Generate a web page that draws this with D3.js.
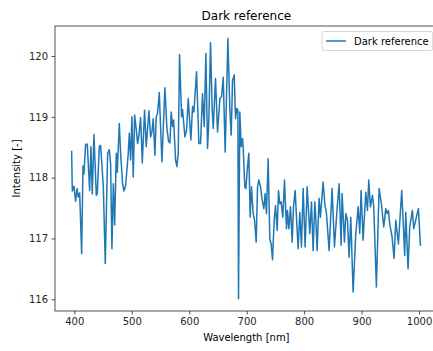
<!DOCTYPE html>
<html>
<head>
<meta charset="utf-8">
<script src="https://cdn.jsdelivr.net/npm/d3@7"></script>
<style>
  html, body { margin: 0; padding: 0; background: #fff; }
  svg { display: block; font-family: "DejaVu Sans", sans-serif; }
</style>
</head>
<body>
<svg id="chart" width="433" height="351"></svg>
<script>
const title = 'Dark reference';
const seriesName = 'Dark reference';
const xLabel = 'Wavelength [nm]';
const yLabel = 'Intensity [-]';
const xTicks = [400, 500, 600, 700, 800, 900, 1000];
const yTicks = [116, 117, 118, 119, 120];

const wavelengths = [
  395.4, 396.5, 399.4, 402.3, 404.7, 407.0, 409.3, 412.8, 415.1, 416.8,
  419.7, 422.6, 426.7, 429.0, 431.3, 434.2, 438.3, 440.0, 443.5, 445.8,
  450.5, 453.9, 458.0, 460.9, 463.2, 465.5, 467.9, 470.2, 473.1, 474.8,
  478.3, 480.6, 484.1, 486.4, 489.3, 493.9, 495.7, 498.0, 500.3, 502.6,
  505.0, 507.3, 510.2, 512.5, 515.4, 518.3, 522.3, 525.2, 529.9, 532.8,
  535.1, 537.4, 540.3, 542.6, 544.9, 547.9, 552.5, 557.7, 561.2, 564.1,
  566.4, 568.7, 571.0, 572.8, 576.3, 578.6, 580.9, 583.2, 586.7, 588.4,
  592.5, 595.4, 598.3, 602.9, 605.8, 608.1, 612.8, 616.8, 619.7, 623.2,
  626.1, 629.0, 631.9, 634.2, 637.1, 640.0, 641.8, 645.8, 649.3, 653.4,
  656.3, 659.2, 662.6, 667.3, 670.8, 673.1, 675.4, 678.3, 680.6, 682.9,
  684.7, 685.8, 688.1, 690.5, 692.8, 693.9, 696.8, 698.6, 701.5, 703.8,
  706.1, 708.4, 711.3, 713.7, 716.6, 718.9, 721.2, 724.1, 727.0, 729.9,
  732.2, 734.5, 737.4, 740.3, 742.6, 745.0, 747.9, 750.2, 753.1, 755.4,
  757.7, 760.0, 762.9, 765.8, 769.3, 771.0, 773.4, 776.3, 779.2, 781.5,
  784.4, 787.3, 789.6, 792.5, 795.4, 798.3, 801.8, 805.3, 808.2, 809.9,
  812.8, 815.7, 818.6, 820.3, 822.6, 826.1, 828.4, 833.1, 836.0, 838.9,
  843.5, 848.7, 852.8, 856.8, 860.9, 864.4, 866.1, 870.2, 872.5, 875.4,
  878.3, 881.2, 885.3, 889.9, 894.0, 896.8, 899.2, 902.6, 907.3, 910.2,
  912.5, 915.4, 918.9, 921.2, 925.8, 930.5, 934.5, 938.6, 942.1, 944.4,
  946.7, 949.0, 953.1, 956.6, 959.5, 964.1, 969.9, 975.1, 976.9, 980.9,
  983.8, 988.4, 990.8, 995.4, 998.9, 1002.4
];

const intensities = [
  118.43, 117.78, 117.86, 117.61, 117.82, 117.68, 117.75, 116.75, 118.19, 118.06,
  118.55, 118.55, 117.79, 118.51, 117.73, 118.71, 117.71, 117.74, 118.51, 118.53,
  117.85, 116.59, 118.40, 118.46, 118.23, 116.83, 117.90, 117.22, 118.40, 118.09,
  118.89, 118.40, 117.90, 117.78, 117.87, 118.40, 118.73, 118.29, 119.00, 118.01,
  119.03, 118.84, 118.56, 118.70, 118.99, 118.24, 119.11, 118.51, 119.10, 118.67,
  118.75, 118.97, 118.37, 119.00, 119.06, 119.40, 118.26, 119.48, 118.81, 118.59,
  118.57, 119.08, 118.84, 118.95, 118.29, 118.18, 118.40, 120.02, 119.00, 119.12,
  118.67, 118.78, 119.30, 118.62, 119.17, 119.08, 119.74, 118.56, 118.56, 119.38,
  118.84, 120.04, 118.48, 118.95, 120.22, 119.11, 118.81, 119.63, 118.75, 119.30,
  119.33, 119.65, 118.42, 120.29, 119.11, 118.70, 119.60, 119.69, 118.97, 119.14,
  119.11, 116.01, 119.08, 118.51, 118.64, 118.51, 117.85, 117.82, 118.18, 118.40,
  117.35, 117.85, 117.41, 117.30, 116.94, 117.85, 117.96, 117.85, 117.63, 117.49,
  117.74, 117.41, 118.31, 116.99, 116.91, 116.65, 117.30, 117.54, 117.13, 117.79,
  117.57, 117.60, 117.35, 117.96, 117.16, 117.46, 117.16, 117.52, 116.94, 117.52,
  117.79, 117.24, 116.83, 117.43, 116.86, 117.82, 116.86, 117.85, 117.35, 117.08,
  117.60, 116.80, 117.60, 117.35, 116.80, 117.66, 117.35, 117.93, 117.57, 117.41,
  116.80, 117.82, 116.86, 117.41, 117.90, 116.89, 117.74, 116.94, 117.41, 117.30,
  116.69, 117.35, 116.12, 117.08, 117.52, 117.08, 117.79, 116.97, 117.76, 117.46,
  117.96, 117.52, 117.71, 117.52, 116.20, 117.82, 117.57, 117.19, 117.49, 117.41,
  117.46, 117.24, 117.02, 116.67, 117.30, 116.91, 117.79, 116.72, 117.43, 116.50,
  117.19, 117.46, 117.16, 117.35, 117.49, 116.89
];

const data = wavelengths.map((w, i) => ({ x: w, y: intensities[i] }));

// axes box; the right spine falls just outside the picture like in the original
const plot = { left: 55, top: 26, right: 437.7, bottom: 311 };
const textColor = '#262626';

const svg = d3.select('#chart');

const x = d3.scaleLinear().domain([366.4, 1032.5]).range([plot.left, plot.right]);
const y = d3.scaleLinear().domain([115.807, 120.494]).range([plot.bottom, plot.top]);

// x axis
const xAxis = svg.append('g')
  .attr('transform', `translate(0,${plot.bottom})`)
  .call(d3.axisBottom(x).tickValues(xTicks).tickSize(3.5).tickPadding(3.5).tickFormat(d3.format('d')));
xAxis.select('.domain').remove();
xAxis.selectAll('line').attr('stroke', textColor).attr('stroke-width', 0.8);
xAxis.selectAll('text').attr('fill', textColor).style('font-size', '10px')
  .style('font-family', '"DejaVu Sans", sans-serif');

// y axis
const yAxis = svg.append('g')
  .attr('transform', `translate(${plot.left},0)`)
  .call(d3.axisLeft(y).tickValues(yTicks).tickSize(3.5).tickPadding(3.5).tickFormat(d3.format('d')));
yAxis.select('.domain').remove();
yAxis.selectAll('line').attr('stroke', textColor).attr('stroke-width', 0.8);
yAxis.selectAll('text').attr('fill', textColor).style('font-size', '10px')
  .style('font-family', '"DejaVu Sans", sans-serif');

// spines
svg.append('rect')
  .attr('x', plot.left).attr('y', plot.top)
  .attr('width', plot.right - plot.left).attr('height', plot.bottom - plot.top)
  .attr('fill', 'none').attr('stroke', textColor).attr('stroke-width', 0.8);

// the line
const line = d3.line().x(d => x(d.x)).y(d => y(d.y));
svg.append('path')
  .datum(data)
  .attr('d', line)
  .attr('fill', 'none')
  .attr('stroke', '#1f77b4')
  .attr('stroke-width', 1.5)
  .attr('stroke-linejoin', 'round')
  .attr('stroke-linecap', 'square');

// title and labels
const midX = (plot.left + plot.right) / 2;
svg.append('text')
  .attr('x', midX).attr('y', 19.5)
  .attr('text-anchor', 'middle')
  .attr('fill', 'black')
  .style('font-size', '12px')
  .text(title);

svg.append('text')
  .attr('x', midX).attr('y', 340.5)
  .attr('text-anchor', 'middle')
  .attr('fill', 'black')
  .style('font-size', '10px')
  .text(xLabel);

svg.append('text')
  .attr('transform', `translate(19.5,${(plot.top + plot.bottom) / 2}) rotate(-90)`)
  .attr('text-anchor', 'middle')
  .attr('fill', 'black')
  .style('font-size', '10px')
  .text(yLabel);

// legend, anchored to the top right corner of the axes
const legend = svg.append('g');
const legendText = legend.append('text')
  .attr('y', 44.5)
  .attr('fill', 'black')
  .style('font-size', '10px')
  .text(seriesName);
const textW = legendText.node().getComputedTextLength();
const boxRight = plot.right - 5;
const boxW = textW + 36;
const boxX = boxRight - boxW;
legend.insert('rect', 'text')
  .attr('x', boxX).attr('y', 31.5)
  .attr('width', boxW).attr('height', 19)
  .attr('rx', 2).attr('ry', 2)
  .attr('fill', 'white').attr('fill-opacity', 0.8)
  .attr('stroke', '#cccccc').attr('stroke-width', 0.8);
legend.append('line')
  .attr('x1', boxX + 4).attr('x2', boxX + 24)
  .attr('y1', 41).attr('y2', 41)
  .attr('stroke', '#1f77b4').attr('stroke-width', 1.5);
legendText.attr('x', boxX + 32);
</script>
</body>
</html>
